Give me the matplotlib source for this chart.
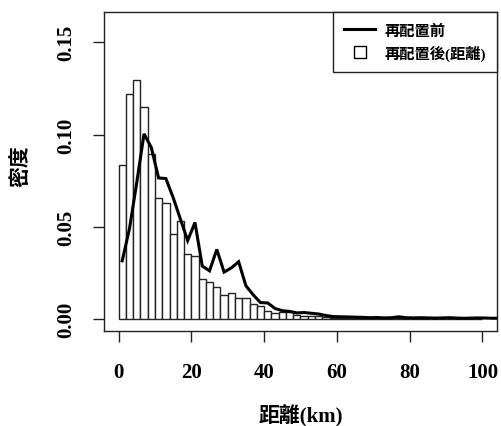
import numpy as np
import matplotlib
matplotlib.use("Agg")
import matplotlib.pyplot as plt
from matplotlib.lines import Line2D

plt.rcParams['font.family'] = ['Liberation Serif', 'Noto Sans CJK JP', 'DejaVu Sans']

# histogram: 2 km bins from 0 to 100
bin_edges = list(range(0, 102, 2))
hist_density = [0.0834, 0.1222, 0.1298, 0.1147, 0.0894, 0.0657, 0.0627, 0.0462, 0.0532, 0.0351,
                0.0341, 0.0216, 0.0201, 0.0172, 0.0131, 0.0142, 0.0114, 0.0114, 0.0084, 0.0074,
                0.0045, 0.0032, 0.0038, 0.0038, 0.0022, 0.0018, 0.0015, 0.0015, 0.0010, 0.0009,
                0.0007, 0.0006, 0.0005, 0.0006, 0.0004, 0.0004, 0.0005, 0.0003, 0.0004, 0.0003,
                0.0003, 0.0004, 0.0003, 0.0002, 0.0003, 0.0002, 0.0003, 0.0002, 0.0002, 0.0002]

# line: density before relocation at bin midpoints
line_x = list(range(1, 107, 2))
line_density = [0.0316, 0.0490, 0.0740, 0.1004, 0.0930, 0.0765, 0.0762, 0.0659, 0.0542, 0.0426,
                0.0524, 0.0288, 0.0262, 0.0378, 0.0255, 0.0278, 0.0311, 0.0181, 0.0132, 0.0090,
                0.0088, 0.0058, 0.0046, 0.0042, 0.0034, 0.0036, 0.0032, 0.0028, 0.0020, 0.0014,
                0.0013, 0.0012, 0.0011, 0.0010, 0.0008, 0.0009, 0.0007, 0.0008, 0.0013, 0.0008,
                0.0007, 0.0008, 0.0007, 0.0006, 0.0007, 0.0008, 0.0006, 0.0005, 0.0006, 0.0007,
                0.0006, 0.0005, 0.0005]

x_ticks = [0, 20, 40, 60, 80, 100]
y_ticks = [0.00, 0.05, 0.10, 0.15]
y_tick_labels = ["0.00", "0.05", "0.10", "0.15"]

label_line = "再配置前"
label_hist = "再配置後(距離)"
x_label = "距離(km)"
y_label = "密度"

fig = plt.figure(figsize=(5.02, 4.27), dpi=100)
ax = fig.add_axes([104/502, 1 - 332/427, (497-104)/502, (332-13)/427])

lefts = bin_edges[:-1]
widths = np.diff(bin_edges)
ax.bar(lefts, hist_density, width=widths, align='edge', facecolor='white',
       edgecolor='#222222', linewidth=1.0, zorder=2)
ax.plot(line_x, line_density, color='black', linewidth=2.2, zorder=3,
        solid_joinstyle='miter')

ax.set_xlim(-4, 104)
ax.set_ylim(-0.0064, 0.1664)
ax.set_xticks(x_ticks)
ax.set_xticklabels([str(v) for v in x_ticks])
ax.set_yticks(y_ticks)
ax.set_yticklabels(y_tick_labels, rotation=90, va='center')

for sp in ax.spines.values():
    sp.set_linewidth(1.0)
    sp.set_color('#222222')
ax.tick_params(axis='both', length=8, width=1.0, color='#222222', labelsize=15)
ax.tick_params(axis='x', pad=14)
ax.tick_params(axis='y', pad=12)
for t in ax.get_xticklabels() + ax.get_yticklabels():
    t.set_fontweight('bold')

ax.set_xlabel(x_label, fontsize=15, fontweight='bold')
ax.xaxis.label.set_va('center')
ax.xaxis.set_label_coords(0.5, -0.266)
ax.set_ylabel(y_label, fontsize=15, fontweight='bold')
ax.yaxis.label.set_va('center')
ax.yaxis.set_label_coords(-0.209, 0.52)

handles = [Line2D([], [], color='black', linewidth=2.2),
           Line2D([], [], marker='s', linestyle='none', markerfacecolor='white',
                  markeredgecolor='black', markersize=8, markeredgewidth=1.0)]
leg = ax.legend(handles, [label_line, label_hist], loc='upper right',
                bbox_to_anchor=(1, 1), borderaxespad=0, fancybox=False,
                edgecolor='#222222', framealpha=1, prop={'size': 11, 'weight': 'bold'},
                handlelength=2.0, handletextpad=0.6, borderpad=0.75, labelspacing=0.45)
leg.get_frame().set_linewidth(1.0)

fig.savefig("out.png", dpi=100)
